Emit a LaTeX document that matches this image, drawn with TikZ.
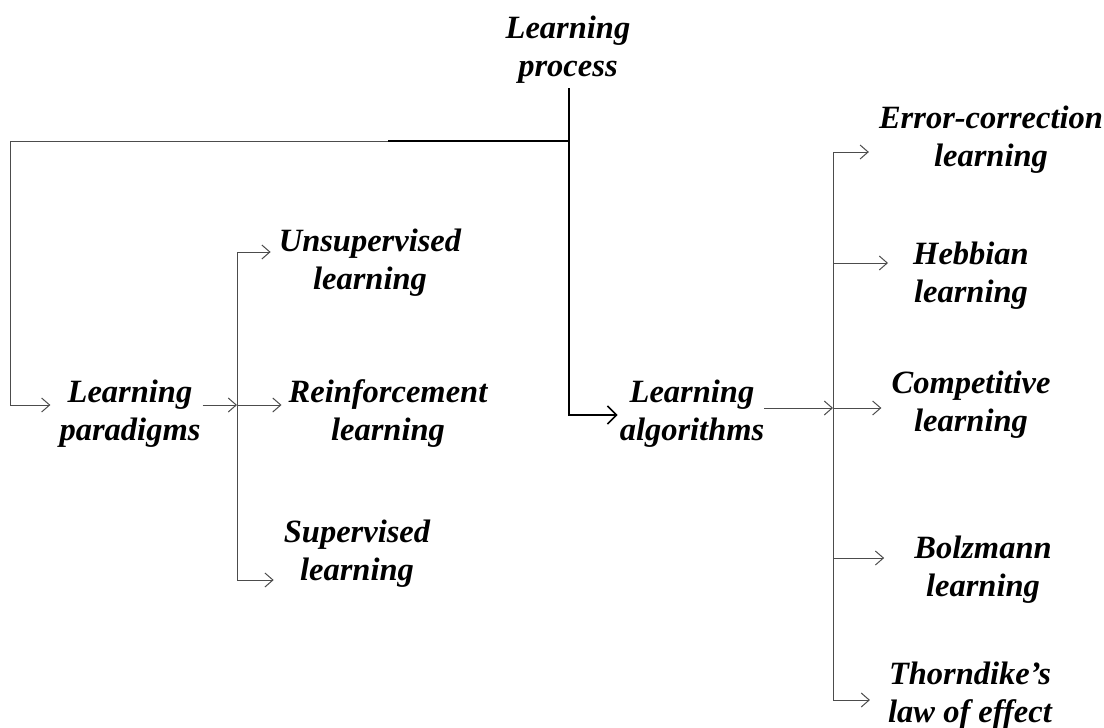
\documentclass[tikz,border=0pt]{standalone}
\usepackage{fontspec}
\setmainfont{Liberation Serif}
\usepackage{tikz}
\usetikzlibrary{arrows.meta}

\tikzset{
	lbl/.style={align=center, inner sep=0pt, font=\fontsize{32.5}{38}\selectfont\bfseries\itshape},
	wire/.style={line width=1pt, draw=black!70},
	mainwire/.style={line width=1.6pt, draw=black},
	arr/.style={wire, -{Straight Barb[length=8pt,width=14pt]}},
	mainarr/.style={mainwire, -{Straight Barb[length=9pt,width=18pt]}}
}

\begin{document}
\begin{tikzpicture}[x=1pt, y=-1pt]

	\useasboundingbox (0, 0) rectangle (1104, 728);

	% labels
	\node[lbl] (proc) at (568, 50) {Learning\\process};
	\node[lbl] (par) at (130, 414) {Learning\\paradigms};
	\node[lbl] (alg) at (692, 414) {Learning\\algorithms};

	\node[lbl] (unsup) at (370, 263) {Unsupervised\\learning};
	\node[lbl] (reinf) at (388, 414) {Reinforcement\\learning};
	\node[lbl] (sup) at (357, 554) {Supervised\\learning};

	\node[lbl] (err) at (991, 140) {Error-correction\\learning};
	\node[lbl] (heb) at (971, 276) {Hebbian\\learning};
	\node[lbl] (comp) at (971, 405) {Competitive\\learning};
	\node[lbl] (bolz) at (983, 570) {Bolzmann\\learning};
	\node[lbl] (thorn) at (970, 696) {Thorndike's\\law of effect};

	% junction points
	\coordinate (top) at (569, 88);
	\coordinate (split) at (569, 141);
	\coordinate (mid) at (388, 141);
	\coordinate (left) at (10, 141);
	\coordinate (pbus) at (237, 405);
	\coordinate (abus) at (833, 408);

	% from the learning process
	\draw[mainwire] (mid) -- (split);
	\draw[mainarr] (top) -- (569, 415) -- ([xshift=-2pt]alg.west |- 0, 415);
	\draw[wire] (mid) -- (left);
	\draw[arr] (left) -- (10, 405) -- ([xshift=-9pt]par.west |- 0, 405);

	% paradigms
	\draw[arr] (par.east |- pbus) ++(2, 0) -- (pbus);
	\draw[wire] (237, 252) -- (237, 580);
	\draw[arr] (237, 252) -- ([xshift=-8pt]unsup.west |- 0, 252);
	\draw[arr] (pbus) -- ([xshift=-7pt]reinf.west |- 0, 405);
	\draw[arr] (237, 580) -- ([xshift=-10pt]sup.west |- 0, 580);

	% algorithms
	\draw[arr] (alg.east |- abus) -- (abus);
	\draw[wire] (833, 152) -- (833, 700);
	\draw[arr] (833, 152) -- ([xshift=-10pt]err.west |- 0, 152);
	\draw[arr] (833, 263) -- ([xshift=-25pt]heb.west |- 0, 263);
	\draw[arr] (abus) -- ([xshift=-10pt]comp.west |- 0, 408);
	\draw[arr] (833, 558) -- ([xshift=-30pt]bolz.west |- 0, 558);
	\draw[arr] (833, 700) -- ([xshift=-18pt]thorn.west |- 0, 700);

\end{tikzpicture}
\end{document}
